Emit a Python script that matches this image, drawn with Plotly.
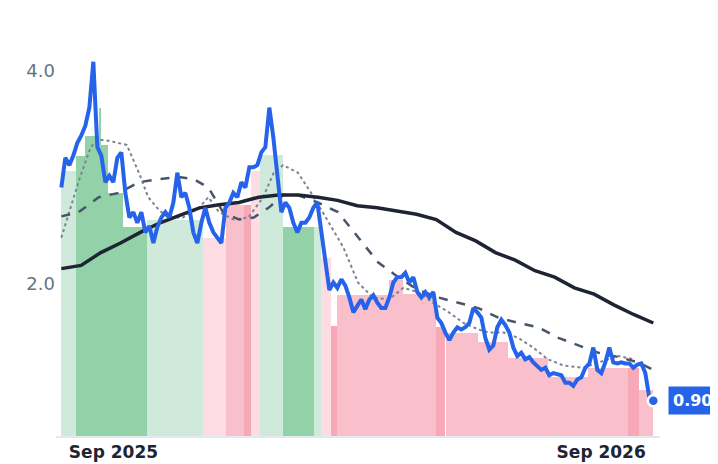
import plotly.graph_objects as go
import pandas as pd
import numpy as np

# fechas: días desde 2025-09-01
origin = pd.Timestamp("2025-09-01")

# serie diaria (línea azul), muestreada de forma regular entre inicio y fin
start_day, end_day = -39, 404
price = [2.90, 3.18, 3.11, 3.20, 3.32, 3.39, 3.48, 3.65, 4.08, 3.28, 3.20, 2.95, 3.01, 2.95, 3.18, 3.23,
         2.85, 2.62, 2.67, 2.57, 2.67, 2.48, 2.54, 2.38, 2.53, 2.62, 2.67, 2.62, 2.76, 3.04, 2.81, 2.85,
         2.71, 2.48, 2.38, 2.57, 2.71, 2.57, 2.48, 2.43, 2.38, 2.71, 2.76, 2.85, 2.81, 2.95, 2.90, 3.09,
         3.09, 3.11, 3.23, 3.28, 3.65, 3.37, 3.04, 2.67, 2.76, 2.71, 2.57, 2.48, 2.57, 2.57, 2.62, 2.71,
         2.76, 2.48, 2.15, 1.94, 2.01, 1.96, 2.04, 1.98, 1.87, 1.73, 1.79, 1.85, 1.76, 1.85, 1.89, 1.82,
         1.77, 1.77, 1.87, 2.01, 2.06, 2.06, 2.10, 2.01, 2.06, 1.92, 1.87, 1.92, 1.87, 1.92, 1.68, 1.63,
         1.54, 1.47, 1.54, 1.59, 1.57, 1.59, 1.63, 1.77, 1.73, 1.68, 1.49, 1.38, 1.42, 1.59, 1.66, 1.61,
         1.54, 1.40, 1.32, 1.35, 1.29, 1.31, 1.26, 1.23, 1.19, 1.21, 1.14, 1.16, 1.15, 1.14, 1.07, 1.07,
         1.04, 1.10, 1.12, 1.21, 1.25, 1.40, 1.19, 1.16, 1.26, 1.40, 1.26, 1.25, 1.26, 1.25, 1.25, 1.21,
         1.24, 1.25, 1.16, 0.93, 0.90]

# media larga (línea sólida)
long_ma = [2.14, 2.17, 2.29, 2.38, 2.48, 2.57, 2.64, 2.71, 2.74, 2.76, 2.81, 2.83, 2.83, 2.81, 2.78, 2.73,
           2.71, 2.68, 2.65, 2.60, 2.48, 2.40, 2.29, 2.22, 2.12, 2.06, 1.96, 1.90, 1.80, 1.71, 1.63]

# media intermedia (discontinua)
mid_days = [-39, -26, -11, 4, 19, 34, 49, 60, 71, 82, 94, 105, 116, 127, 138, 153, 168, 183, 198, 213,
            228, 243, 258, 273, 288, 303, 318, 333, 348, 363, 378, 393, 404]
mid_ma = [2.63, 2.67, 2.81, 2.85, 2.95, 2.98, 3.00, 2.98, 2.90, 2.67, 2.60, 2.62, 2.71, 2.83, 2.83, 2.76,
          2.67, 2.43, 2.20, 2.06, 1.94, 1.87, 1.82, 1.77, 1.68, 1.63, 1.59, 1.49, 1.42, 1.35, 1.31, 1.26, 1.19]

# media corta (punteada)
short_days = [-39, -32, -25, -17, -11, -4, 10, 19, 26, 34, 41, 52, 64, 71, 79, 90, 101, 112, 120, 127,
              138, 150, 161, 172, 183, 194, 206, 217, 228, 239, 251, 262, 273, 281, 292, 303, 314, 325,
              337, 352, 363, 378, 389]
short_ma = [2.43, 2.71, 3.00, 3.28, 3.35, 3.34, 3.30, 3.04, 2.81, 2.69, 2.62, 2.62, 2.71, 2.81, 2.67, 2.60,
            2.62, 2.81, 3.04, 3.11, 3.04, 2.81, 2.57, 2.34, 2.01, 1.87, 1.85, 1.96, 1.92, 1.82, 1.73, 1.63,
            1.57, 1.54, 1.54, 1.49, 1.40, 1.29, 1.23, 1.21, 1.26, 1.32, 1.29]

# bloques de fondo: inicio, fin (días), altura, tipo
blk_start = [-39, -28, -21, -11, -9, -4, 7, 25, 67, 84, 98, 103, 110, 127, 150, 155, 163, 167, 206, 217,
             241, 249, 273, 295, 325, 355, 385, 393]
blk_end = [-28, -21, -11, -9, -4, 7, 25, 67, 84, 98, 103, 110, 127, 150, 155, 163, 167, 206, 217, 241,
           248, 273, 295, 325, 355, 385, 393, 404]
blk_height = [3.06, 3.20, 3.38, 3.65, 3.30, 2.85, 2.53, 2.60, 2.43, 2.74, 2.74, 3.06, 3.21, 2.53, 2.53,
              2.24, 1.60, 1.89, 2.03, 1.90, 1.59, 1.54, 1.45, 1.30, 1.12, 1.21, 1.21, 1.00]
blk_kind = ["g1", "g2", "g2", "g2", "g2", "g2", "g2", "g1", "r1", "r2", "r3", "r1", "g1", "g2", "g1",
            "r1", "r3", "r2", "r2", "r2", "r3", "r2", "r2", "r2", "r2", "r2", "r3", "r2"]
kind_color = {"g1": "#cfeadb", "g2": "#93d1a8", "r1": "#fddde3", "r2": "#f9bfca", "r3": "#f7a9b8"}

def to_date(d):
    return origin + pd.to_timedelta(np.asarray(d, dtype=float), unit="D")

fig = go.Figure()

mids = [(a + b) / 2 for a, b in zip(blk_start, blk_end)]
widths = [(b - a) * 86400000 for a, b in zip(blk_start, blk_end)]
fig.add_trace(go.Bar(x=to_date(mids), y=blk_height, width=widths,
                     marker=dict(color=[kind_color[k] for k in blk_kind], line=dict(width=0)),
                     hoverinfo="skip"))

price_days = np.linspace(start_day, end_day, len(price))
long_days = np.linspace(start_day, end_day, len(long_ma))

fig.add_trace(go.Scatter(x=to_date(short_days), y=short_ma, mode="lines",
                         line=dict(color="#7b8494", width=2, dash="dot")))
fig.add_trace(go.Scatter(x=to_date(mid_days), y=mid_ma, mode="lines",
                         line=dict(color="#475569", width=2.5, dash="dash")))
fig.add_trace(go.Scatter(x=to_date(long_days), y=long_ma, mode="lines",
                         line=dict(color="#1e2433", width=3.5)))
fig.add_trace(go.Scatter(x=to_date(price_days), y=price, mode="lines",
                         line=dict(color="#2563eb", width=4)))
fig.add_trace(go.Scatter(x=to_date([price_days[-1]]), y=[price[-1]], mode="markers",
                         marker=dict(color="#2563eb", size=11, line=dict(color="white", width=2.5))))

fig.add_annotation(x=1.0, xref="paper", xanchor="left", xshift=8, y=price[-1], yref="y",
                   text=f"<b>{price[-1]:.2f}</b>", showarrow=False,
                   font=dict(color="white", size=16, family="DejaVu Sans"),
                   bgcolor="#2563eb", borderpad=4)

fig.update_layout(
    width=718, height=464,
    margin=dict(l=48, r=66, t=25, b=36, autoexpand=False),
    paper_bgcolor="white", plot_bgcolor="white",
    showlegend=False, bargap=0,
    xaxis=dict(range=[to_date([-43])[0], to_date([409])[0]], automargin=False,
               tickvals=to_date([0, 365]), ticktext=["<b>Sep 2025</b>", "<b>Sep 2026</b>"],
               tickfont=dict(size=17, color="#1e2433", family="DejaVu Sans"),
               showgrid=False, showline=True, linecolor="#e2e8f0", linewidth=2, ticks=""),
    yaxis=dict(range=[0.57, 4.35], tickvals=[2, 4], ticktext=["2.0", "4.0"], automargin=False,
               tickfont=dict(size=18, color="#64748b", family="DejaVu Sans"),
               showgrid=False, zeroline=False, ticks=""),
)

fig.write_html("out.html")
